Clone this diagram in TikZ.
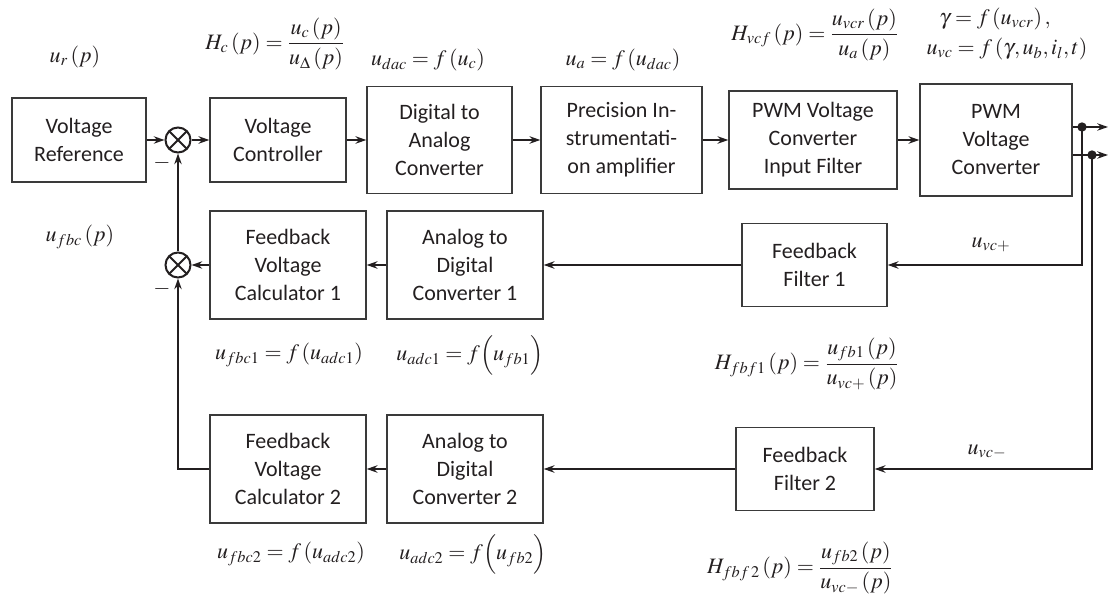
\documentclass[tikz,border=0pt]{standalone}
\usepackage{mathptmx}
\usepackage[no-math]{fontspec}
\setmainfont{Carlito}
\usetikzlibrary{arrows.meta}

\definecolor{ink}{HTML}{231F20}
\definecolor{boxc}{HTML}{3A3A3A}
\newcommand\blkfont{\fontsize{16.5}{21}\selectfont}
\newcommand\eqnfont{\fontsize{16.5}{20}\selectfont}

\tikzset{
  blk/.style={draw=boxc, line width=1pt, align=center, font=\blkfont, text=ink, inner sep=0pt},
  sz/.style 2 args={minimum width={#1*0.75pt}, minimum height={#2*0.75pt}},
  wire/.style={draw=ink, line width=1.5pt},
  conn/.style={wire, -{Stealth[length=8pt,width=5.5pt,inset=2.5pt]}},
  sumj/.style={circle, draw=ink, line width=1.5pt, minimum size={25*0.75pt}, inner sep=0pt,
    path picture={\draw[ink, line width=1.5pt]
      (path picture bounding box.north west) -- (path picture bounding box.south east)
      (path picture bounding box.north east) -- (path picture bounding box.south west);}},
  eq/.style={text=ink, font=\eqnfont, inner sep=0pt},
  jdot/.style={circle, fill=ink, minimum size=7pt, inner sep=0pt}
}

\begin{document}
\begin{tikzpicture}[x=0.75pt, y=-0.75pt]
\useasboundingbox (0,0) rectangle (1110,598);

% forward path
\node[blk, sz={134}{84}]  (vr)  at (79,140)    {Voltage\\Reference};
\node[sumj]               (s1)  at (178,140)   {};
\node[blk, sz={136}{84}]  (vc)  at (278,140)   {Voltage\\Controller};
\node[blk, sz={145}{107}] (dac) at (439.5,140) {Digital to\\Analog\\Converter};
\node[blk, sz={161}{107}] (pia) at (621.5,140) {Precision In-\\strumentati-\\on amplifier};
\node[blk, sz={168}{98}]  (pif) at (813,140)   {PWM Voltage\\Converter\\Input Filter};
\node[blk, sz={152}{112}] (pvc) at (996,140)   {PWM\\Voltage\\Converter};

% feedback branch 1
\node[blk, sz={156}{108}] (fvc1) at (288,265)   {Feedback\\Voltage\\Calculator 1};
\node[blk, sz={156}{108}] (adc1) at (465,265)   {Analog to\\Digital\\Converter 1};
\node[blk, sz={145}{83}]  (ff1)  at (814.5,265) {Feedback\\Filter 1};
\node[sumj]               (s2)   at (178,265)   {};

% feedback branch 2
\node[blk, sz={156}{108}] (fvc2) at (288,469) {Feedback\\Voltage\\Calculator 2};
\node[blk, sz={156}{108}] (adc2) at (465,469) {Analog to\\Digital\\Converter 2};
\node[blk, sz={138}{83}]  (ff2)  at (805,469) {Feedback\\Filter 2};

% converter outputs and pick-off points
\coordinate (j1) at (1082,127);
\coordinate (j2) at (1092,155);
\coordinate (o1) at (1108,127);
\coordinate (o2) at (1108,155);

% connectors
\draw[conn] (vr) -- (s1);
\draw[conn] (s1) -- (vc);
\draw[conn] (vc) -- (dac);
\draw[conn] (dac) -- (pia);
\draw[conn] (pia) -- (pif);
\draw[conn] (pif) -- (pvc);
\draw[conn] (pvc.east |- j1) -- (o1);
\draw[conn] (pvc.east |- j2) -- (o2);
\draw[conn] (j1) |- (ff1.east);
\draw[conn] (j2) |- (ff2.east);
\draw[conn] (ff1) -- (adc1);
\draw[conn] (adc1) -- (fvc1);
\draw[conn] (fvc1) -- (s2);
\draw[conn] (s2) -- (s1);
\draw[conn] (ff2) -- (adc2);
\draw[conn] (adc2) -- (fvc2);
\draw[conn] (fvc2.west) -| (s2.south);
\node[jdot] (d1) at (j1) {};
\node[jdot] (d2) at (j2) {};

% signs at the summing junctions
\node[eq] (m1) at (162,163) {$-$};
\node[eq] (m2) at (162,289) {$-$};

% signal and transfer-function labels
\node[eq] (lur)   at (75,57)   {$u_r\left(p\right)$};
\node[eq] (lhc)   at (275,44)  {$H_c\left(p\right)=\displaystyle\frac{u_c\left(p\right)}{u_\Delta\left(p\right)}$};
\node[eq] (ludac) at (428,60)  {$u_{dac}=f\left(u_c\right)$};
\node[eq] (lua)   at (623,60)  {$u_a=f\left(u_{dac}\right)$};
\node[eq] (lhvcf) at (815,35)  {$H_{vcf}\left(p\right)=\displaystyle\frac{u_{vcr}\left(p\right)}{u_a\left(p\right)}$};
\node[eq] (lgam)  at (995,19)  {$\gamma=f\left(u_{vcr}\right),$};
\node[eq] (luvc)  at (1007,49) {$u_{vc}=f\left(\gamma,u_b,i_l,t\right)$};
\node[eq] (lufbc) at (80,237)  {$u_{fbc}\left(p\right)$};
\node[eq] (luvcp) at (991,245) {$u_{vc+}$};
\node[eq] (luvcm) at (987,452) {$u_{vc-}$};
\node[eq] (lfbc1) at (289,355) {$u_{fbc1}=f\left(u_{adc1}\right)$};
\node[eq] (ladc1) at (470,355) {$u_{adc1}=f\Bigl(u_{fb1}\Bigr)$};
\node[eq] (lhf1)  at (807,364) {$H_{fbf1}\left(p\right)=\displaystyle\frac{u_{fb1}\left(p\right)}{u_{vc+}\left(p\right)}$};
\node[eq] (lfbc2) at (291,554) {$u_{fbc2}=f\left(u_{adc2}\right)$};
\node[eq] (ladc2) at (473,554) {$u_{adc2}=f\Bigl(u_{fb2}\Bigr)$};
\node[eq] (lhf2)  at (800,568) {$H_{fbf\,2}\left(p\right)=\displaystyle\frac{u_{fb2}\left(p\right)}{u_{vc-}\left(p\right)}$};
\end{tikzpicture}
\end{document}
